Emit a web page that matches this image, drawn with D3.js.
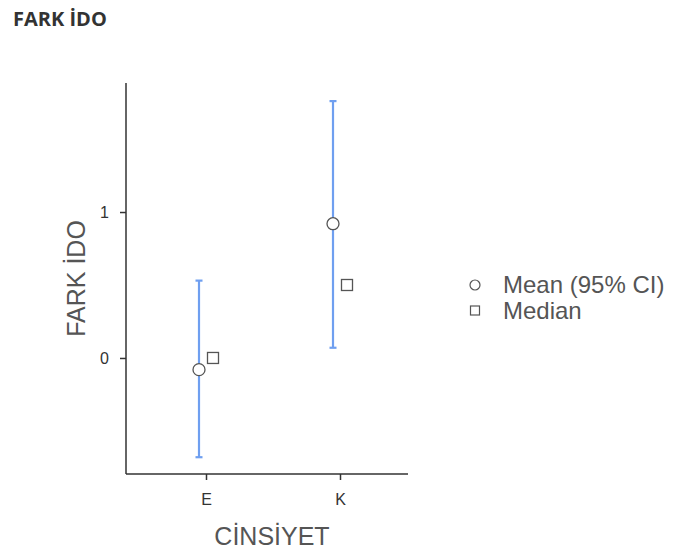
<!DOCTYPE html>
<html>
<head>
<meta charset="utf-8">
<script src="https://cdn.jsdelivr.net/npm/d3@7"></script>
<style>
  html, body { margin: 0; padding: 0; background: #fff; }
  svg { display: block; }
</style>
</head>
<body>
<script>
// Group labels and summary statistics for FARK İDO by CİNSİYET
const categories = ["E", "K"];
const means = [-0.08, 0.92];
const ciLower = [-0.68, 0.07];
const ciUpper = [0.53, 1.76];
const medians = [0, 0.5];
const yTicks = [0, 1];
const legendLabels = ["Mean (95% CI)", "Median"];

const W = 674, H = 552;
const svg = d3.select("body").append("svg").attr("width", W).attr("height", H);

const plot = { left: 126, right: 408, top: 83, bottom: 474 };

const x = d3.scalePoint().domain(categories).range([206, 340]);
const y = d3.scaleLinear().domain([-0.795, 1.884]).range([plot.bottom, plot.top]);

const axisColor = "#333";
const markStroke = "#555";
const barColor = "#6f9ff0";
const dodge = 7;
const sans = "'Liberation Sans', Arial, sans-serif";

// Title
svg.append("text")
  .attr("x", 13).attr("y", 26)
  .attr("font-family", "'Open Sans', sans-serif")
  .attr("font-weight", "bold")
  .attr("font-size", 20)
  .attr("fill", "#333")
  .text("FARK İDO");

// Axis lines
svg.append("line")
  .attr("x1", plot.left).attr("x2", plot.left)
  .attr("y1", plot.top).attr("y2", plot.bottom)
  .attr("stroke", axisColor).attr("stroke-width", 1.5);
svg.append("line")
  .attr("x1", plot.left).attr("x2", plot.right)
  .attr("y1", plot.bottom).attr("y2", plot.bottom)
  .attr("stroke", axisColor).attr("stroke-width", 1.5);

// Y axis ticks
const yAxis = svg.append("g")
  .attr("transform", `translate(${plot.left},0)`)
  .call(d3.axisLeft(y).tickValues(yTicks).tickFormat(d3.format("d")).tickSize(6).tickPadding(11));
yAxis.select(".domain").remove();
yAxis.selectAll(".tick line").attr("stroke", axisColor).attr("stroke-width", 1.5);
yAxis.selectAll(".tick text")
  .attr("font-family", sans)
  .attr("font-size", 16).attr("fill", "#333");

// X axis ticks
const xAxis = svg.append("g")
  .attr("transform", `translate(0,${plot.bottom})`)
  .call(d3.axisBottom(x).tickSize(6).tickPadding(14));
xAxis.select(".domain").remove();
xAxis.selectAll(".tick line").attr("stroke", axisColor).attr("stroke-width", 1.5);
xAxis.selectAll(".tick text")
  .attr("font-family", sans)
  .attr("font-size", 16).attr("fill", "#333");

// Axis titles
svg.append("text")
  .attr("transform", `translate(85,${(plot.top + plot.bottom) / 2}) rotate(-90)`)
  .attr("text-anchor", "middle")
  .attr("font-family", sans)
  .attr("font-size", 25).attr("fill", "#555")
  .text("FARK İDO");
svg.append("text")
  .attr("x", 272).attr("y", 545)
  .attr("text-anchor", "middle")
  .attr("font-family", sans)
  .attr("font-size", 25).attr("fill", "#555")
  .text("CİNSİYET");

const rows = categories.map((c, i) => ({
  cat: c, mean: means[i], lo: ciLower[i], hi: ciUpper[i], median: medians[i]
}));

// Confidence interval bars
const bars = svg.append("g").attr("stroke", barColor).attr("stroke-width", 2.2);
rows.forEach(d => {
  const cx = x(d.cat) - dodge;
  bars.append("line").attr("x1", cx).attr("x2", cx).attr("y1", y(d.lo)).attr("y2", y(d.hi));
  bars.append("line").attr("x1", cx - 3.5).attr("x2", cx + 3.5).attr("y1", y(d.lo)).attr("y2", y(d.lo));
  bars.append("line").attr("x1", cx - 3.5).attr("x2", cx + 3.5).attr("y1", y(d.hi)).attr("y2", y(d.hi));
});

// Means
svg.append("g").selectAll("circle").data(rows).join("circle")
  .attr("cx", d => x(d.cat) - dodge)
  .attr("cy", d => y(d.mean))
  .attr("r", 6)
  .attr("fill", "#fff").attr("stroke", markStroke).attr("stroke-width", 1.3);

// Medians
const sq = 11;
svg.append("g").selectAll("rect").data(rows).join("rect")
  .attr("x", d => x(d.cat) + dodge - sq / 2)
  .attr("y", d => y(d.median) - sq / 2)
  .attr("width", sq).attr("height", sq)
  .attr("fill", "#fff").attr("stroke", markStroke).attr("stroke-width", 1.3);

// Legend
const legend = svg.append("g").attr("transform", "translate(475,285)");
legend.append("circle").attr("cx", 0).attr("cy", 0).attr("r", 5)
  .attr("fill", "#fff").attr("stroke", markStroke).attr("stroke-width", 1.2);
legend.append("rect").attr("x", -4.5).attr("y", 21).attr("width", 9).attr("height", 9)
  .attr("fill", "#fff").attr("stroke", markStroke).attr("stroke-width", 1.2);
legend.selectAll("text").data(legendLabels).join("text")
  .attr("x", 28)
  .attr("y", (d, i) => 8 + i * 26)
  .attr("font-family", sans)
  .attr("font-size", 24).attr("fill", "#555")
  .text(d => d);
</script>
</body>
</html>
